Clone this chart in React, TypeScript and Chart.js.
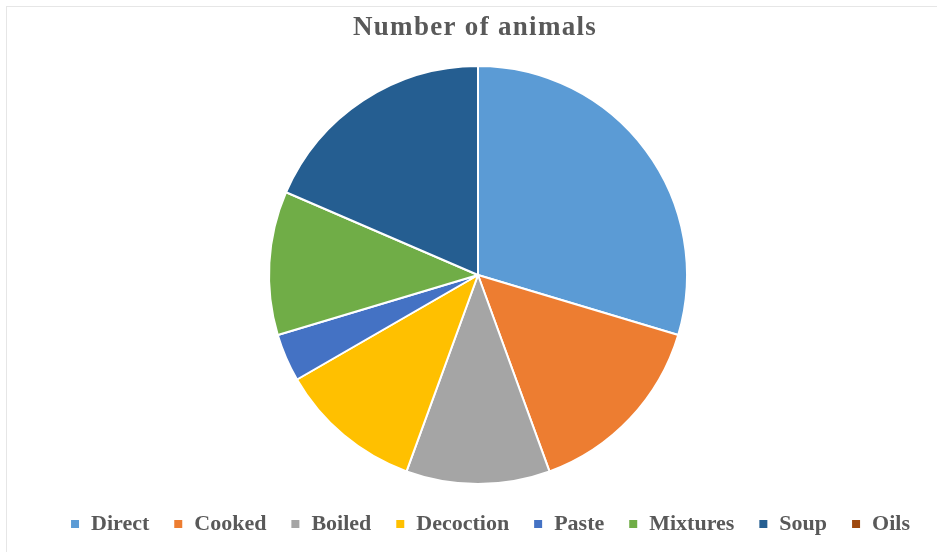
import React, { useEffect, useRef } from "react";
import { Chart, registerables } from "chart.js";

Chart.register(...registerables);

const categories = ["Direct", "Cooked", "Boiled", "Decoction", "Paste", "Mixtures", "Soup", "Oils"];
const counts = [8, 4, 3, 3, 1, 3, 5, 0];
const colors = ["#5B9BD5", "#ED7D31", "#A5A5A5", "#FFC000", "#4472C4", "#70AD47", "#255E91", "#9E480E"];
const titleText = "Number of animals";

const titlePlugin = {
  id: "customTitle",
  afterDraw(chart: any) {
    const ctx = chart.ctx as CanvasRenderingContext2D;
    ctx.save();
    ctx.font = "bold 27px 'Liberation Serif', serif";
    (ctx as any).letterSpacing = "1.3px";
    ctx.fillStyle = "#595959";
    ctx.textAlign = "left";
    ctx.textBaseline = "alphabetic";
    ctx.fillText(titleText, 353, 35);
    ctx.restore();
  },
};

const shiftLegend = {
  id: "shiftLegend",
  afterLayout(chart: any) {
    const lg = chart.legend;
    if (!lg) return;
    lg.left += 12;
    lg.right += 12;
    lg.top -= 7;
    lg.bottom -= 7;
  },
};

export default function App() {
  const ref = useRef<HTMLCanvasElement | null>(null);
  useEffect(() => {
    document.body.style.margin = "0";
    const ctx = ref.current!;
    const chart = new Chart(ctx, {
      type: "pie",
      data: {
        labels: categories,
        datasets: [
          {
            data: counts,
            backgroundColor: colors,
            borderColor: "#ffffff",
            borderWidth: 2,
          },
        ],
      },
      options: {
        animation: false,
        responsive: false,
        radius: 209,
        layout: { padding: { left: 19, right: 0, top: 54, bottom: 0 } },
        plugins: {
          title: { display: false },
          legend: {
            position: "bottom",
            labels: {
              color: "#595959",
              font: { family: "'Liberation Serif', serif", size: 22, weight: "bold" },
              boxWidth: 10,
              boxHeight: 10,
              padding: 24,
            },
          },
          tooltip: { enabled: false },
        },
      },
      plugins: [titlePlugin, shiftLegend],
    });
    return () => chart.destroy();
  }, []);
  return (
    <div style={{ position: "relative", width: 937, height: 552, background: "#fff" }}>
      <div
        style={{
          position: "absolute",
          left: 6,
          top: 6,
          right: -2,
          bottom: -2,
          borderLeft: "1px solid #e6e6e6",
          borderTop: "1px solid #e6e6e6",
        }}
      />
      <canvas ref={ref} width={937} height={552} style={{ position: "absolute", left: 0, top: 0 }} />
    </div>
  );
}
